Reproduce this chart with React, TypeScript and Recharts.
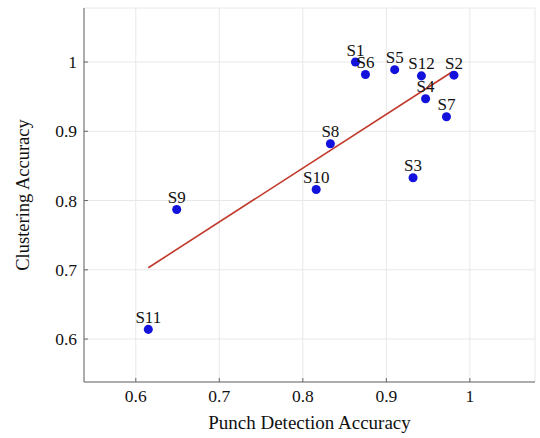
import { ScatterChart, Scatter, XAxis, YAxis, ZAxis, CartesianGrid, LabelList, Label } from 'recharts';

// subjects with punch detection accuracy (x) and clustering accuracy (y)
const subjects = ['S1', 'S2', 'S3', 'S4', 'S5', 'S6', 'S7', 'S8', 'S9', 'S10', 'S11', 'S12'];
const punchAcc = [0.863, 0.981, 0.932, 0.947, 0.91, 0.875, 0.972, 0.833, 0.649, 0.816, 0.615, 0.942];
const clusterAcc = [1.0, 0.981, 0.833, 0.947, 0.989, 0.982, 0.921, 0.882, 0.787, 0.816, 0.614, 0.98];

// linear fit, drawn between its two ends
const trendX = [0.615, 0.979];
const trendY = [0.703, 0.986];

const ticks = [0.6, 0.7, 0.8, 0.9, 1];
const domain: [number, number] = [0.538, 1.078];

const points = subjects.map((name, i) => ({ name, x: punchAcc[i], y: clusterAcc[i] }));
const trend = trendX.map((x, i) => ({ x, y: trendY[i] }));

const font = '"Liberation Serif", serif';
const tickStyle = { fontFamily: font, fontSize: 17.5, fill: '#111' };
const axisColor = '#666';

export default function App() {
  return (
    <div style={{ position: 'absolute', left: 0, top: 0, background: '#fff' }}>
      <ScatterChart width={540} height={438} margin={{ top: 8, right: 5, bottom: 0, left: 0 }}>
        <CartesianGrid stroke="#e8e8e8" strokeDasharray="" />
        <XAxis
          type="number"
          dataKey="x"
          domain={domain}
          ticks={ticks}
          allowDataOverflow
          height={56}
          tick={tickStyle}
          tickSize={-4}
          tickMargin={12}
          stroke={axisColor}
          tickFormatter={(v) => String(v)}
        >
          <Label
            value="Punch Detection Accuracy"
            position="insideBottom"
            offset={9}
            style={{ fontFamily: font, fontSize: 19, fill: '#111' }}
          />
        </XAxis>
        <XAxis
          xAxisId="top"
          orientation="top"
          type="number"
          domain={domain}
          ticks={ticks}
          allowDataOverflow
          height={0}
          tick={false}
          tickSize={-4}
          stroke={axisColor}
        />
        <YAxis
          type="number"
          dataKey="y"
          domain={domain}
          ticks={ticks}
          allowDataOverflow
          width={84}
          tick={tickStyle}
          tickSize={-4}
          tickMargin={11}
          stroke={axisColor}
          tickFormatter={(v) => String(v)}
        >
          <Label
            value="Clustering Accuracy"
            position="insideLeft"
            angle={-90}
            offset={22}
            style={{ fontFamily: font, fontSize: 18.5, fill: '#111', textAnchor: 'middle' }}
          />
        </YAxis>
        <YAxis
          yAxisId="right"
          orientation="right"
          type="number"
          domain={domain}
          ticks={ticks}
          allowDataOverflow
          width={0}
          tick={false}
          tickSize={-4}
          stroke={axisColor}
        />
        <ZAxis range={[56, 56]} />
        <Scatter
          data={trend}
          line={{ stroke: '#c0392b', strokeWidth: 1.6 }}
          shape={() => <g />}
          isAnimationActive={false}
        />
        <Scatter data={points} fill="#1212dc" isAnimationActive={false}>
          <LabelList
            dataKey="name"
            position="top"
            offset={2}
            style={{ fontFamily: font, fontSize: 17, fill: '#111' }}
          />
        </Scatter>
      </ScatterChart>
    </div>
  );
}
